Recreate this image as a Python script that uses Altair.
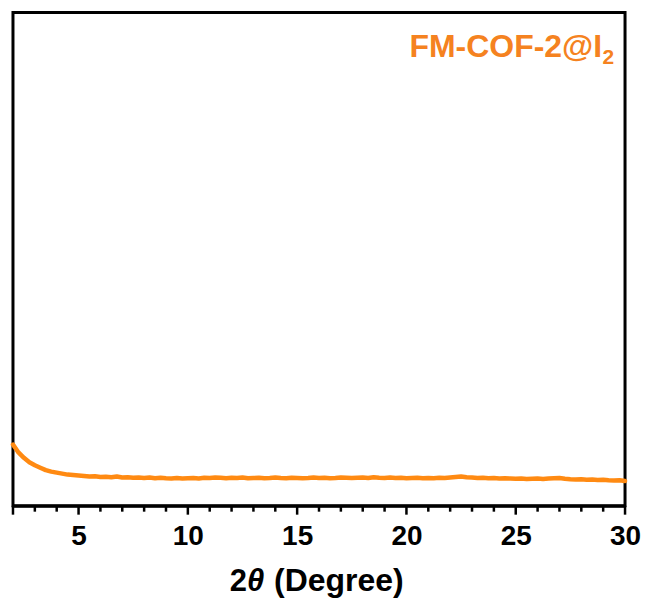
import altair as alt
import pandas as pd

# Scan positions (2θ, degrees) and measured intensity (a.u.)
two_theta = [2 + 0.25 * i for i in range(113)]
intensity = [
    124, 108, 97, 88, 82, 77, 72, 69, 67, 65, 63, 62,
    61, 60, 59, 59.5, 58, 58.5, 57.5, 59, 57, 57.5, 56.5, 57,
    56, 57, 55.5, 56.5, 55.5, 55, 56, 55, 55.5, 56, 55, 56.5,
    56, 57, 56.5, 55.5, 56.5, 56, 57, 55.5, 56, 56.5, 55.5, 56,
    57, 56, 55.5, 56.5, 56, 55.5, 56, 57, 56, 56.5, 55.5, 56,
    57, 56.5, 56, 56.5, 57, 56, 57.5, 56.5, 56, 57, 56, 56.5,
    55.5, 56, 56.5, 55.5, 56, 55.5, 56.5, 56, 57, 58, 59, 57.5,
    57, 56, 56.5, 55.5, 56, 55, 55.5, 55, 54.5, 55, 54, 54.5,
    55, 54, 55, 55.5, 56, 54.5, 53.5, 53, 53.5, 52.5, 53, 52,
    52.5, 51.5, 51, 51.5, 50,
]
series_name = "FM-COF-2@I"
series_sub = "2"
major_ticks = [2, 5, 10, 15, 20, 25, 30]
minor_ticks = [v for v in range(2, 31) if v not in major_ticks]

ORANGE = "#FF8A12"
LABEL_ORANGE = "#F58220"
FONT = "Liberation Sans"

df = pd.DataFrame({"two_theta": two_theta, "intensity": intensity})
major_df = pd.DataFrame({"two_theta": major_ticks})
minor_df = pd.DataFrame({"two_theta": minor_ticks})

x_scale = alt.Scale(domain=[2, 30], nice=False, zero=False)
y_scale = alt.Scale(domain=[0, 1000], nice=False)

line = alt.Chart(df).mark_line(
    color=ORANGE, strokeWidth=4.5, strokeJoin="round", strokeCap="round"
).encode(
    x=alt.X(
        "two_theta:Q",
        scale=x_scale,
        axis=alt.Axis(
            values=major_ticks,
            title=None,
            grid=False,
            domainColor="black",
            domainWidth=3,
            ticks=False,
            labelExpr="datum.value % 5 === 0 ? datum.label : ''",
            labelFont=FONT,
            labelFontSize=28,
            labelFontWeight="bold",
            labelColor="black",
            labelPadding=17,
            labelFlush=False,
            labelOverlap=False,
        ),
    ),
    y=alt.Y("intensity:Q", scale=y_scale, axis=None),
)

# tick marks hanging below the axis line: long at the labelled degrees, short at every other degree
major = alt.Chart(major_df).mark_rule(
    color="black", strokeWidth=2.5, clip=False
).encode(
    x=alt.X("two_theta:Q", scale=x_scale),
    y=alt.value(494),
    y2=alt.value(503),
)

minor = alt.Chart(minor_df).mark_rule(
    color="black", strokeWidth=2.5, clip=False
).encode(
    x=alt.X("two_theta:Q", scale=x_scale),
    y=alt.value(494),
    y2=alt.value(500),
)

# series label in the upper right corner, with subscript
label_main = alt.Chart(pd.DataFrame({"t": [series_name]})).mark_text(
    font=FONT, fontSize=32, fontWeight="bold", color=LABEL_ORANGE,
    align="right", baseline="alphabetic",
).encode(text="t:N", x=alt.value(590), y=alt.value(44.5))

label_sub = alt.Chart(pd.DataFrame({"t": [series_sub]})).mark_text(
    font=FONT, fontSize=21, fontWeight="bold", color=LABEL_ORANGE,
    align="left", baseline="alphabetic",
).encode(text="t:N", x=alt.value(590.5), y=alt.value(51.5))

# x-axis title: 2θ (Degree), with an italic θ
t_two = alt.Chart(pd.DataFrame({"t": ["2"]})).mark_text(
    font=FONT, fontSize=31, fontWeight="bold", color="black",
    align="left", baseline="alphabetic",
).encode(text="t:N", x=alt.value(217), y=alt.value(579.5))

t_theta = alt.Chart(pd.DataFrame({"t": ["θ"]})).mark_text(
    font=FONT, fontSize=31, fontWeight="bold", fontStyle="italic", color="black",
    align="left", baseline="alphabetic",
).encode(text="t:N", x=alt.value(234.5), y=alt.value(579.5))

t_unit = alt.Chart(pd.DataFrame({"t": ["(Degree)"]})).mark_text(
    font=FONT, fontSize=32, fontWeight="bold", color="black",
    align="left", baseline="alphabetic",
).encode(text="t:N", x=alt.value(261.5), y=alt.value(579.5))

chart = alt.layer(line, major, minor, label_main, label_sub, t_two, t_theta, t_unit).properties(
    width=613,
    height=494,
    padding={"left": 10, "top": 12, "right": 5, "bottom": 5},
    background="white",
).configure_view(
    stroke="black", strokeWidth=3
)

chart.save("out.html", embed_options={"renderer": "svg", "actions": False})
